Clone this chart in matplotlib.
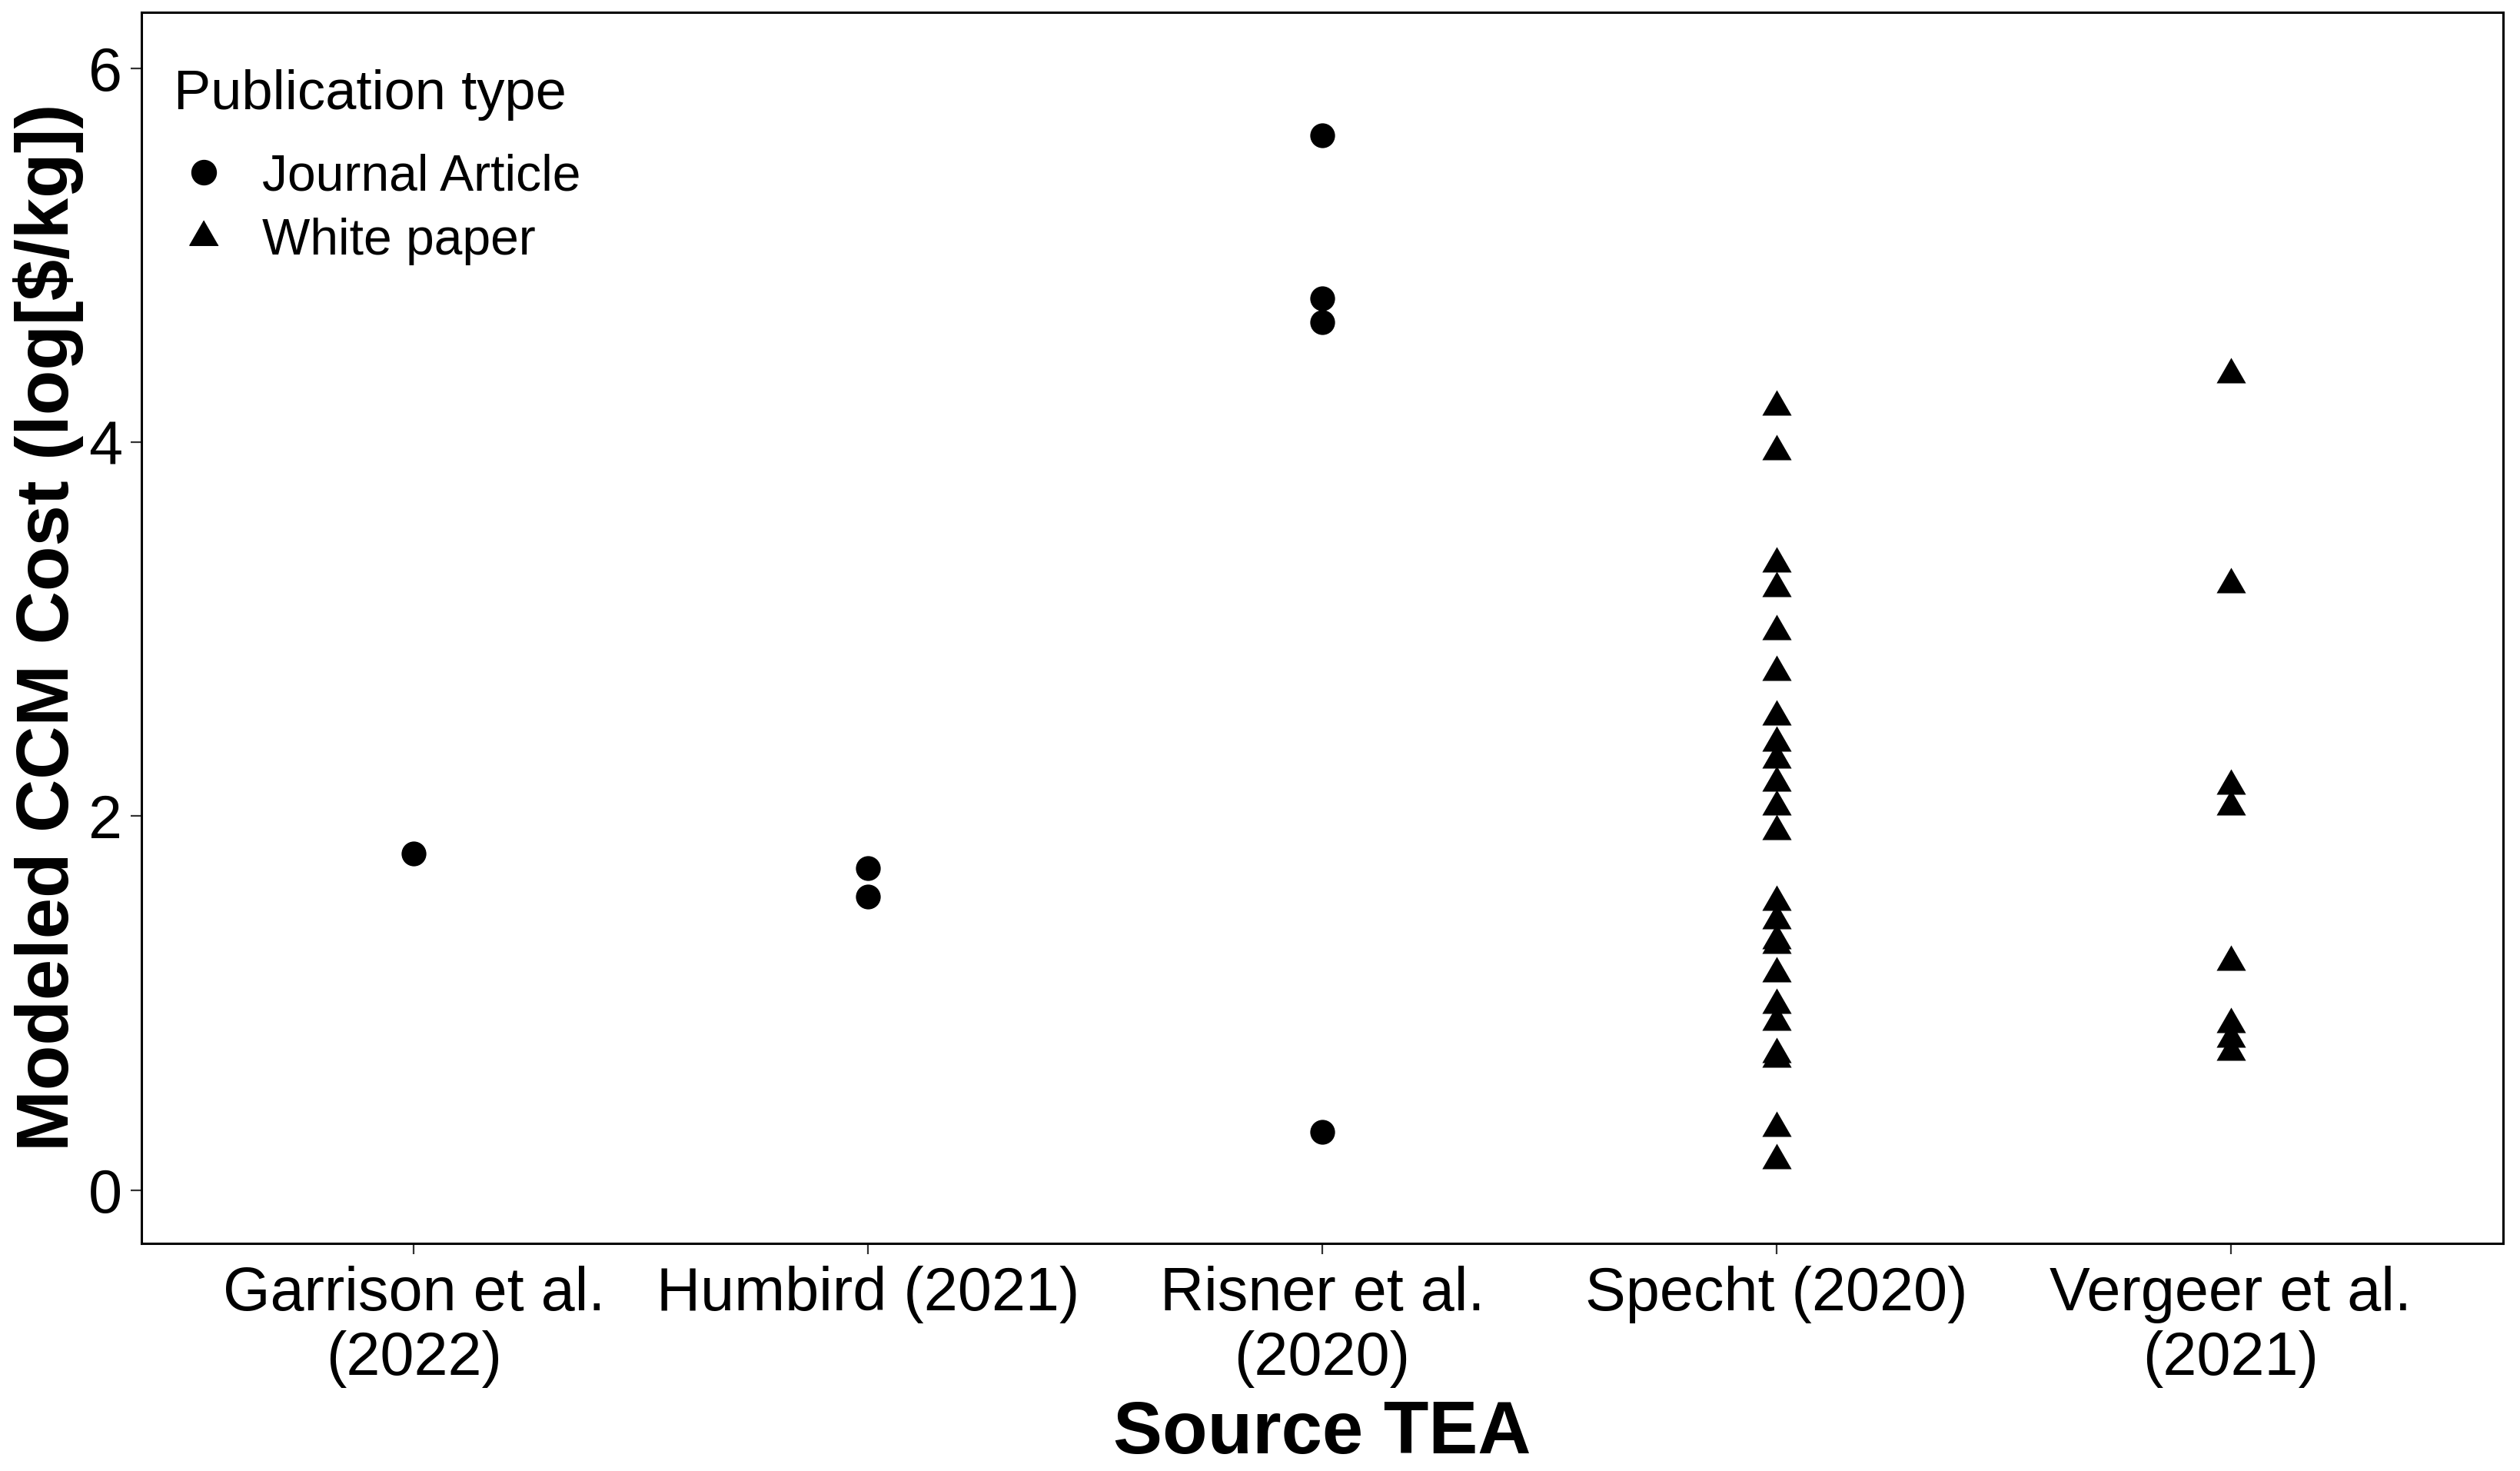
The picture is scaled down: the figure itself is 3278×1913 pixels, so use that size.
import matplotlib
matplotlib.use("Agg")
import matplotlib.pyplot as plt
from matplotlib.lines import Line2D

plt.rcParams['font.family'] = ['Liberation Sans', 'DejaVu Sans']

categories = ["Garrison et al.\n(2022)", "Humbird (2021)", "Risner et al.\n(2020)",
              "Specht (2020)", "Vergeer et al.\n(2021)"]

# Journal articles (circles)
garrison = [1.80]
humbird = [1.72, 1.57]
risner = [5.64, 4.77, 4.64, 0.31]

# White papers (triangles)
specht = [4.19, 3.95, 3.35, 3.22, 2.99, 2.77, 2.53, 2.39, 2.30, 2.18, 2.05, 1.92,
          1.54, 1.44, 1.335, 1.31, 1.16, 0.99, 0.90, 0.725, 0.70, 0.33, 0.16]
vergeer = [4.36, 3.24, 2.16, 2.05, 1.22, 0.885, 0.81, 0.74]

journal = {0: garrison, 1: humbird, 2: risner}
white = {3: specht, 4: vergeer}

tri = [(0, 1), (-0.866, -0.5), (0.866, -0.5)]

fig = plt.figure(figsize=(32.78, 19.13), dpi=100)
ax = fig.add_axes([184/3278, 1 - 1616.7/1913, (3256-184)/3278, (1616.7-15.7)/1913])

for i, vals in journal.items():
    ax.scatter([i]*len(vals), vals, marker='o', s=540, color='black', linewidths=0, zorder=3)
for i, vals in white.items():
    ax.scatter([i]*len(vals), vals, marker=tri, s=44**2*0.52, color='black', linewidths=0, zorder=3)

ax.set_xlim(-0.6, 4.6)
ax.set_ylim(-0.284, 6.30)
ax.set_xticks(range(len(categories)))
ax.set_xticklabels(categories, fontsize=57, linespacing=1.16)
ax.set_yticks([0, 2, 4, 6])
ax.set_yticklabels(["0", "2", "4", "6"], fontsize=57)
ax.tick_params(axis='both', length=10, width=1.6, color='#333333', labelcolor='black')
ax.tick_params(axis='y', pad=8)
ax.tick_params(axis='x', pad=11)
for sp in ax.spines.values():
    sp.set_linewidth(2.2)
    sp.set_color('black')

ax.set_xlabel("Source TEA", fontsize=69, fontweight='bold', labelpad=11)
ax.set_ylabel("Modeled CCM Cost (log[$/kg])", fontsize=69, fontweight='bold', labelpad=4.5)

ax.text(0.0137, 0.9325, "Publication type", transform=ax.transAxes,
        fontsize=52, ha='left', va='center')

handles = [Line2D([], [], marker='o', linestyle='none', color='black', markersize=23),
           Line2D([], [], marker=tri, linestyle='none', color='black', markersize=31)]
leg = ax.legend(handles, ["Journal Article", "White paper"],
                loc='upper left', bbox_to_anchor=(0.0137, 0.8855), frameon=False,
                fontsize=47.5,
                borderpad=0, borderaxespad=0, handlelength=1.18, handletextpad=0.56,
                labelspacing=0.33)

fig.savefig("out.png", dpi=100, facecolor='white')
